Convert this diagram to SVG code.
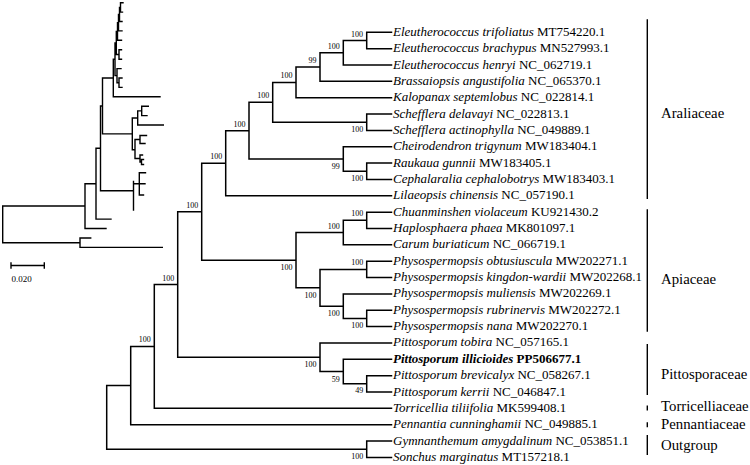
<svg xmlns="http://www.w3.org/2000/svg" width="750" height="465" viewBox="0 0 750 465">
<style>
.br{fill:none;stroke:#000;stroke-width:1.5;stroke-linecap:square}
.sm{fill:none;stroke:#000;stroke-width:1.4;stroke-linecap:square}
.tip{font-family:"Liberation Serif","Times New Roman",serif;font-size:13px;fill:#000}
.sp{font-style:italic}
.bs{font-family:"Liberation Serif","Times New Roman",serif;font-size:8px;fill:#000;text-anchor:end}
.cl{font-family:"Liberation Serif","Times New Roman",serif;font-size:14.8px;fill:#000}
.bar{stroke:#000;stroke-width:1.4}
</style>
<rect width="750" height="465" fill="#fff"/>

<!-- thumbnail tree with scale bar -->
<g id="thumbnail">
<path class="sm" d="M2.7,206V242.7M2.7,206H85M2.7,242.7H80
M80,238V247.4M80,238H90.7M80,247.4H162.3
M85,183.7V228.5M85,183.7H96M85,228.5H106
M96,148.3V219.1M96,148.3H100.5M96,219.1H111
M100.5,105.95V190.7M100.5,105.95H102.5M100.5,190.7H133.5
M102.5,78.05V133.85M102.5,78.05H113.3M102.5,133.85H132.3
M113.3,59.3V96.8M113.3,59.3H115M113.3,96.8H160
M115,43V75.65M115,43H116.3M115,75.65H117
M116.3,31.5V54.5M116.3,31.5H117.5M116.3,54.5H119
M117.5,22.7V40.3M117.5,22.7H118.5M117.5,40.3H121.5
M118.5,14.45V30.9M118.5,14.45H119.5M118.5,30.9H122
M119.5,7.4V21.5M119.5,7.4H120.5M119.5,21.5H122
M120.5,2.7V12.1M120.5,2.7H123M120.5,12.1H122.5
M119,49.8V59.2M119,49.8H121.5M119,59.2H121.5
M117,68.6V82.7M117,68.6H121M117,82.7H119
M119,78V87.4M119,78H122M119,87.4H122
M132.3,117.95V149.75M132.3,117.95H137.7M132.3,149.75H135
M137.7,110.9V125M137.7,110.9H141.7M137.7,125H163.3
M141.7,106.2V115.6M141.7,106.2H148.3M141.7,115.6H147
M135,139.5V158.5M135,139.5H140M135,158.5H140
M140,135.5V143.5M140,135.5H146.5M140,143.5H145
M140,155V162M140,155H142.5M140,162H141.5
M141.5,159.5V164.5M141.5,159.5H143.5M141.5,164.5H143.5
M133.5,181.5V210M133.5,183.8H139.3
M139.3,172.7V195M139.3,172.7H145.5M139.3,183.8H145M139.3,195H143.5"/>
<path class="sm" d="M11,265.5H44.3M11,263V268M44.3,263V268"/>
<text x="11.5" y="281.5" style="font-family:'Liberation Serif','Times New Roman',serif;font-size:9px">0.020</text>
</g>

<!-- main tree branches -->
<g id="connectors">
<path class="br" d="M106.7,385.55V449.2M106.7,385.55H130.7M106.7,449.2H366.7
M130.7,346.4V424.7M130.7,346.4H154.3M130.7,424.7H391.5
M154.3,284.5V408.35M154.3,284.5H177.7M154.3,408.35H391.5
M177.7,211.7V357.25M177.7,211.7H201.7M177.7,357.25H320
M201.7,163.2V260.2M201.7,163.2H225.7M201.7,260.2H296
M225.7,130.65V195.8M225.7,130.65H249M225.7,195.8H391.5
M249,102.3V159M249,102.3H272.7M249,159H343.3
M272.7,82.4V122.2M272.7,82.4H296M272.7,122.2H366.7
M296,67.05V97.7M296,67.05H320M296,97.7H391.5
M320,52.75V81.35M320,52.75H343.3M320,81.35H391.5
M343.3,40.5V65M343.3,40.5H366.7M343.3,65H391.5
M366.7,32.3V48.65M366.7,32.3H391.5M366.7,48.65H391.5
M366.7,114.05V130.4M366.7,114.05H391.5M366.7,130.4H391.5
M343.3,146.75V171.3M343.3,146.75H391.5M343.3,171.3H366.7
M366.7,163.1V179.45M366.7,163.1H391.5M366.7,179.45H391.5
M296,232.6V287.8M296,232.6H343.3M296,287.8H320
M343.3,220.3V244.85M343.3,220.3H366.7M343.3,244.85H391.5
M366.7,212.15V228.5M366.7,212.15H391.5M366.7,228.5H391.5
M320,269.4V306.15M320,269.4H366.7M320,306.15H343.3
M366.7,261.2V277.55M366.7,261.2H391.5M366.7,277.55H391.5
M343.3,293.9V318.4M343.3,293.9H391.5M343.3,318.4H366.7
M366.7,310.25V326.6M366.7,310.25H391.5M366.7,326.6H391.5
M320,342.95V371.55M320,342.95H391.5M320,371.55H343.3
M343.3,359.3V383.8M343.3,359.3H391.5M343.3,383.8H366.7
M366.7,375.65V392M366.7,375.65H391.5M366.7,392H391.5
M366.7,441.05V457.4M366.7,441.05H391.5M366.7,457.4H391.5"/>
</g>

<!-- bootstrap values -->
<g id="support">
<text class="bs" x="363" y="36.5">100</text>
<text class="bs" x="339.8" y="48.8">100</text>
<text class="bs" x="316.5" y="63">99</text>
<text class="bs" x="292.5" y="78.4">100</text>
<text class="bs" x="269.2" y="98.3">100</text>
<text class="bs" x="245.5" y="126.7">100</text>
<text class="bs" x="222.2" y="159.2">100</text>
<text class="bs" x="198.2" y="207.7">100</text>
<text class="bs" x="363.2" y="216.3">100</text>
<text class="bs" x="339.8" y="228.6">100</text>
<text class="bs" x="363.2" y="265.4">100</text>
<text class="bs" x="174.2" y="280.5">100</text>
<text class="bs" x="150.8" y="342.4">100</text>
<text class="bs" x="363.2" y="131.8">100</text>
<text class="bs" x="339.8" y="168.7">99</text>
<text class="bs" x="363.2" y="180.9">100</text>
<text class="bs" x="292.5" y="270.2">100</text>
<text class="bs" x="316.5" y="297.8">100</text>
<text class="bs" x="339.8" y="316.2">100</text>
<text class="bs" x="363.2" y="328.2">100</text>
<text class="bs" x="316.5" y="367.3">100</text>
<text class="bs" x="339.8" y="381.6">59</text>
<text class="bs" x="363.2" y="393.4">49</text>
<text class="bs" x="363.2" y="459">100</text>
</g>

<!-- tip labels -->
<g id="t01"><text class="tip" x="393" y="35.8"><tspan class="sp">Eleutherococcus trifoliatus</tspan> MT754220.1</text></g>
<g id="t02"><text class="tip" x="393" y="52.15"><tspan class="sp">Eleutherococcus brachypus</tspan> MN527993.1</text></g>
<g id="t03"><text class="tip" x="393" y="68.5"><tspan class="sp">Eleutherococcus henryi</tspan> NC_062719.1</text></g>
<g id="t04"><text class="tip" x="393" y="84.85"><tspan class="sp">Brassaiopsis angustifolia</tspan> NC_065370.1</text></g>
<g id="t05"><text class="tip" x="393" y="101.2"><tspan class="sp">Kalopanax septemlobus</tspan> NC_022814.1</text></g>
<g id="t06"><text class="tip" x="393" y="117.55"><tspan class="sp">Schefflera delavayi</tspan> NC_022813.1</text></g>
<g id="t07"><text class="tip" x="393" y="133.9"><tspan class="sp">Schefflera actinophylla</tspan> NC_049889.1</text></g>
<g id="t08"><text class="tip" x="393" y="150.25"><tspan class="sp">Cheirodendron trigynum</tspan> MW183404.1</text></g>
<g id="t09"><text class="tip" x="393" y="166.6"><tspan class="sp">Raukaua gunnii</tspan> MW183405.1</text></g>
<g id="t10"><text class="tip" x="393" y="182.95"><tspan class="sp">Cephalaralia cephalobotrys</tspan> MW183403.1</text></g>
<g id="t11"><text class="tip" x="393" y="199.3"><tspan class="sp">Lilaeopsis chinensis</tspan> NC_057190.1</text></g>
<g id="t12"><text class="tip" x="393" y="215.65"><tspan class="sp">Chuanminshen violaceum</tspan> KU921430.2</text></g>
<g id="t13"><text class="tip" x="393" y="232"><tspan class="sp">Haplosphaera phaea</tspan> MK801097.1</text></g>
<g id="t14"><text class="tip" x="393" y="248.35"><tspan class="sp">Carum buriaticum</tspan> NC_066719.1</text></g>
<g id="t15"><text class="tip" x="393" y="264.7"><tspan class="sp">Physospermopsis obtusiuscula</tspan> MW202271.1</text></g>
<g id="t16"><text class="tip" x="393" y="281.05"><tspan class="sp">Physospermopsis kingdon-wardii</tspan> MW202268.1</text></g>
<g id="t17"><text class="tip" x="393" y="297.4"><tspan class="sp">Physospermopsis muliensis</tspan> MW202269.1</text></g>
<g id="t18"><text class="tip" x="393" y="313.75"><tspan class="sp">Physospermopsis rubrinervis</tspan> MW202272.1</text></g>
<g id="t19"><text class="tip" x="393" y="330.1"><tspan class="sp">Physospermopsis nana</tspan> MW202270.1</text></g>
<g id="t20"><text class="tip" x="393" y="346.45"><tspan class="sp">Pittosporum tobira</tspan> NC_057165.1</text></g>
<g id="t21"><text class="tip" x="393" y="362.8" font-weight="bold"><tspan class="sp">Pittosporum illicioides</tspan> PP506677.1</text></g>
<g id="t22"><text class="tip" x="393" y="379.15"><tspan class="sp">Pittosporum brevicalyx</tspan> NC_058267.1</text></g>
<g id="t23"><text class="tip" x="393" y="395.5"><tspan class="sp">Pittosporum kerrii</tspan> NC_046847.1</text></g>
<g id="t24"><text class="tip" x="393" y="411.85"><tspan class="sp">Torricellia tiliifolia</tspan> MK599408.1</text></g>
<g id="t25"><text class="tip" x="393" y="428.2"><tspan class="sp">Pennantia cunninghamii</tspan> NC_049885.1</text></g>
<g id="t26"><text class="tip" x="393" y="444.55"><tspan class="sp">Gymnanthemum amygdalinum</tspan> NC_053851.1</text></g>
<g id="t27"><text class="tip" x="393" y="460.9"><tspan class="sp">Sonchus marginatus</tspan> MT157218.1</text></g>

<!-- clade bars -->
<g id="araliaceae"><line class="bar" x1="647.3" y1="19.3" x2="647.3" y2="199"/><text class="cl" x="661" y="117.5">Araliaceae</text></g>
<g id="apiaceae"><line class="bar" x1="647.3" y1="209.3" x2="647.3" y2="331.7"/><text class="cl" x="661" y="284">Apiaceae</text></g>
<g id="pittosporaceae"><line class="bar" x1="647.3" y1="344" x2="647.3" y2="395"/><text class="cl" x="661" y="378.5">Pittosporaceae</text></g>
<g id="torricelliaceae"><line class="bar" x1="647.3" y1="405.5" x2="647.3" y2="410.5"/><text class="cl" x="661" y="410.7">Torricelliaceae</text></g>
<g id="pennantiaceae"><line class="bar" x1="647.3" y1="422.2" x2="647.3" y2="427.2"/><text class="cl" x="661" y="429">Pennantiaceae</text></g>
<g id="outgroup"><line class="bar" x1="647.3" y1="435" x2="647.3" y2="455"/><text class="cl" x="661" y="450">Outgroup</text></g>
</svg>
